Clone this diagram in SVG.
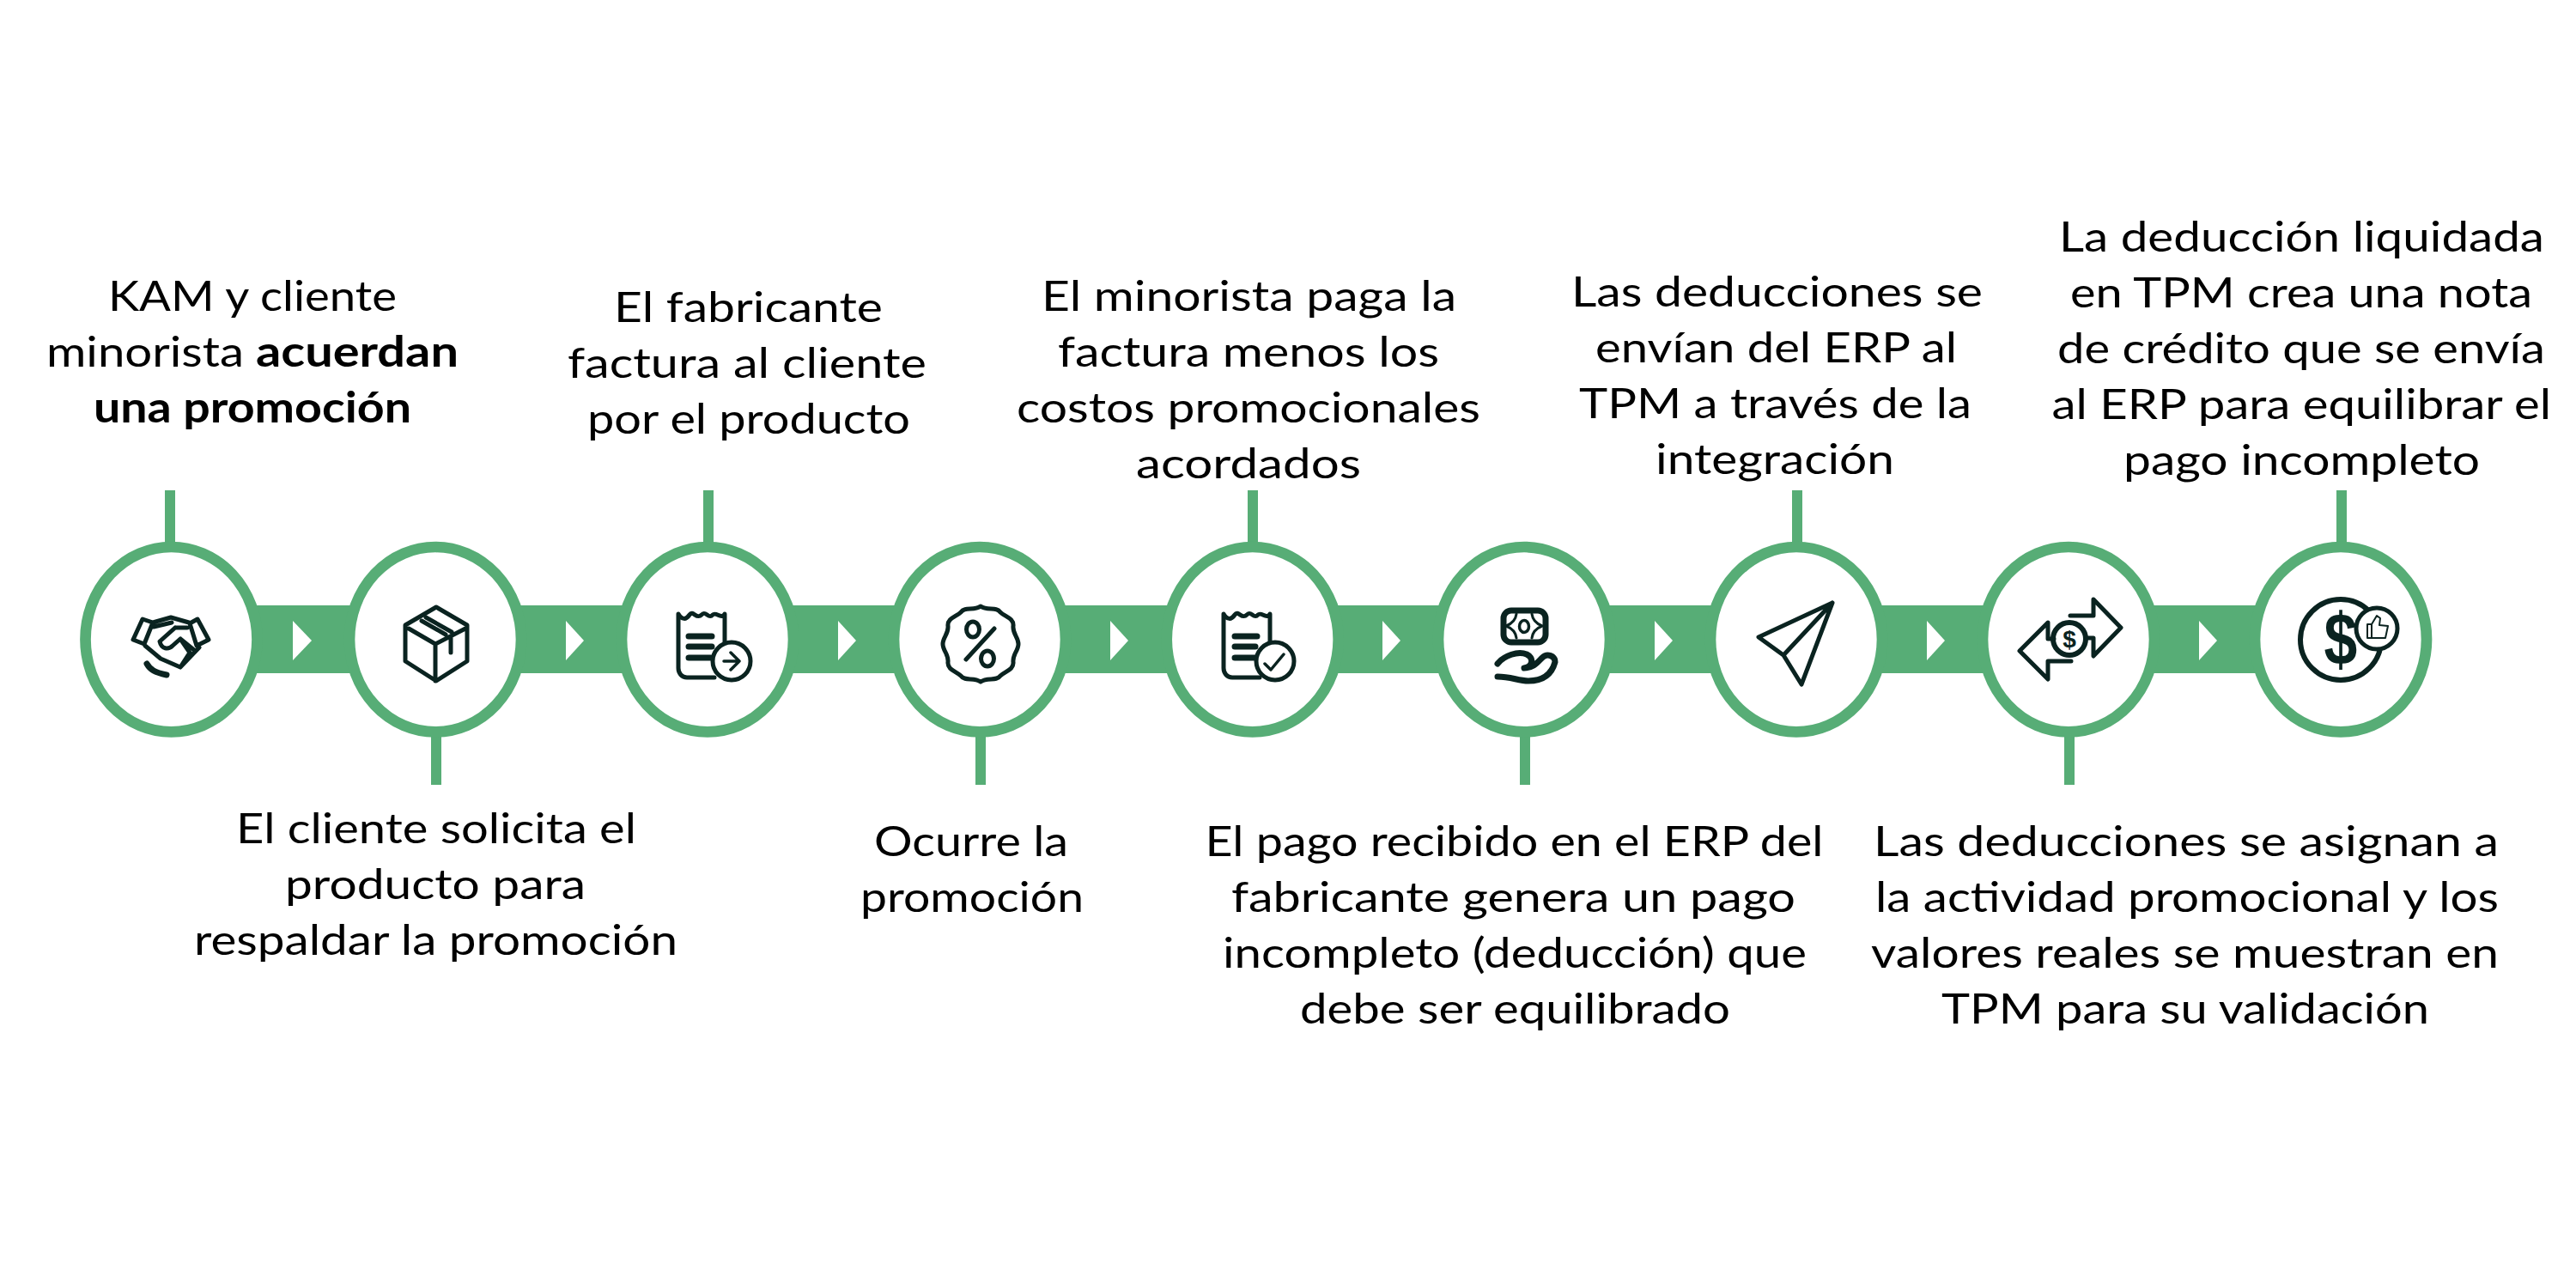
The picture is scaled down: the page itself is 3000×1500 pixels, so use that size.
<svg xmlns="http://www.w3.org/2000/svg" width="3000" height="1500" viewBox="0 0 3000 1500">
<style>
text{font-family:"Lato","Noto Sans",sans-serif;font-size:49px;fill:#000}
.b{font-weight:700}
.ring{fill:#fff;stroke:#57ad76;stroke-width:12.7}
.band{fill:#57ad76}
.tri{fill:#fff}
.ic{fill:none;stroke:#0a2320;stroke-width:5;stroke-linecap:round;stroke-linejoin:round}
.th{stroke-width:7}
.wf{fill:#fff}
.sym{fill:#0a2320;font-family:"Liberation Sans",sans-serif;font-weight:700;text-anchor:middle}
</style>
<rect width="3000" height="1500" fill="#fff"/>
<g id="connectors">
<rect class="band" x="290" y="705" width="2350" height="79"/>
<path class="tri" d="M341 723L363 746L341 769Z"/>
<path class="tri" d="M659 723L680 746L659 769Z"/>
<path class="tri" d="M976 723L997 746L976 769Z"/>
<path class="tri" d="M1293 723L1314 746L1293 769Z"/>
<path class="tri" d="M1610 723L1631 746L1610 769Z"/>
<path class="tri" d="M1927 723L1948 746L1927 769Z"/>
<path class="tri" d="M2244 723L2265 746L2244 769Z"/>
<path class="tri" d="M2561 723L2582 746L2561 769Z"/>
<rect class="band" x="192" y="571" width="12" height="62"/>
<rect class="band" x="502" y="856" width="12" height="58"/>
<rect class="band" x="819" y="571" width="12" height="62"/>
<rect class="band" x="1136" y="856" width="12" height="58"/>
<rect class="band" x="1453" y="571" width="12" height="62"/>
<rect class="band" x="1770" y="856" width="12" height="58"/>
<rect class="band" x="2087" y="571" width="12" height="62"/>
<rect class="band" x="2404" y="856" width="12" height="58"/>
<rect class="band" x="2721" y="571" width="12" height="62"/>
</g>
<g id="node1">
<ellipse class="ring" cx="199.5" cy="744.7" rx="100" ry="107.7"/>
<path class="ic" d="M166 721L178 725L168 750L155 745ZM230 721L221 726L229 752L243 745ZM178 725L199 719L220 725M169 752L187 767L210 777L232 754M179 730L200 725M204 731H218M204 731L186 747C188 756 196 757 201 752L210 744L226 757M210 777L221 760L210 744"/>
<path class="ic th" d="M171 773C175 780 180 783 194 786"/>
</g>
<g id="node2">
<ellipse class="ring" cx="507" cy="744.7" rx="100" ry="107.7"/>
<path class="ic" d="M508 707L544 728V770L508 793L472 770V728ZM476 732L507 750L542 732M507 750V793M491 723L519 739M496 719L526 736M525 743V760"/>
</g>
<g id="node3">
<ellipse class="ring" cx="824" cy="744.7" rx="100" ry="107.7"/>
<path class="ic" d="M832 789H800C794 789 790 784 790 778V715C794 722 799 722 803 716C807 710 811 722 817 716C822 710 825 722 830 716C834 712 840 722 844 715V748"/>
<path class="ic th" d="M802 741H829M802 753H829M802 766H828"/>
<circle class="ic wf" cx="852" cy="770" r="22"/>
<path class="ic" style="stroke-width:3.5" d="M843 770H861M851 760L861 770L851 780"/>
</g>
<g id="node4">
<ellipse class="ring" cx="1141" cy="744.7" rx="100" ry="107.7"/>
<path class="ic" d="M1186 750C1186 742 1179 738 1180 729C1181 720 1170 718 1165 713C1160 706 1150 712 1142 706C1134 712 1124 706 1119 713C1114 718 1103 720 1104 729C1105 738 1098 742 1098 750C1098 758 1105 762 1104 771C1103 780 1114 782 1119 787C1124 794 1134 788 1142 794C1150 788 1160 794 1165 787C1170 782 1181 780 1180 771C1179 762 1186 758 1186 750ZM1158 732L1125 768"/>
<ellipse class="ic" cx="1133" cy="733" rx="7.5" ry="9"/>
<ellipse class="ic" cx="1150" cy="767" rx="7.5" ry="9"/>
</g>
<g id="node5">
<ellipse class="ring" cx="1458.7" cy="744.7" rx="100" ry="107.7"/>
<path class="ic" d="M1467 789H1435C1429 789 1425 784 1425 778V715C1429 722 1434 722 1438 716C1442 710 1446 722 1452 716C1457 710 1460 722 1465 716C1469 712 1475 722 1479 715V748"/>
<path class="ic th" d="M1438 741H1464M1438 753H1462M1438 766H1463"/>
<circle class="ic wf" cx="1485" cy="770" r="22"/>
<path class="ic" style="stroke-width:3.5" d="M1473 773L1480 780L1495 762"/>
</g>
<g id="node6">
<ellipse class="ring" cx="1775" cy="744.7" rx="100" ry="107.7"/>
<rect class="ic th" x="1751" y="711" width="49" height="37" rx="9"/>
<ellipse class="ic" style="stroke-width:3.5" cx="1775" cy="729.5" rx="5.5" ry="7"/>
<path class="ic" style="stroke-width:3" d="M1766 715C1765 723 1759 727 1754 729C1759 731 1765 735 1766 743M1784 715C1785 723 1791 727 1796 729C1791 731 1785 735 1784 743"/>
<path class="ic th" d="M1744 773C1752 763 1768 758 1778 762C1786 766 1786 776 1775 778C1786 778 1790 772 1796 766C1802 760 1811 764 1811 771C1808 782 1800 793 1780 793C1768 793 1760 788 1744 788"/>
</g>
<g id="node7">
<ellipse class="ring" cx="2092" cy="744.7" rx="100" ry="107.7"/>
<path class="ic" d="M2134 702L2048 742L2077 763L2098 797ZM2134 702L2077 763"/>
</g>
<g id="node8">
<ellipse class="ring" cx="2409" cy="744.7" rx="100" ry="107.7"/>
<path class="ic" d="M2411 717H2438V698L2470 731L2438 764V743H2432M2392 744H2385V725L2352 758L2385 791V770H2412"/>
<circle class="ic" style="stroke-width:6" cx="2410" cy="744" r="19"/>
<text class="sym" x="2410" y="754" style="font-size:28px">$</text>
</g>
<g id="node9">
<ellipse class="ring" cx="2726" cy="744.7" rx="100" ry="107.7"/>
<circle class="ic" style="stroke-width:6" cx="2726" cy="745" r="47"/>
<text class="sym" transform="translate(2726 774) scale(.82 1)" style="font-size:85px">$</text>
<circle class="ic wf" cx="2768" cy="732" r="24"/>
<path class="ic" style="stroke-width:2" d="M2757 727H2762V743H2757ZM2762 727L2768 717L2772 720L2771 728L2781 729L2778 743H2762"/>
</g>
<g id="labels">
<text x="126" y="361.7" textLength="336" lengthAdjust="spacingAndGlyphs">KAM y cliente</text>
<text x="54" y="426.7" textLength="230" lengthAdjust="spacingAndGlyphs">minorista</text>
<text class="b" x="298" y="426.7" textLength="236" lengthAdjust="spacingAndGlyphs">acuerdan</text>
<text class="b" x="109" y="491.7" textLength="370" lengthAdjust="spacingAndGlyphs">una promoción</text>
<text x="715" y="375" textLength="313" lengthAdjust="spacingAndGlyphs">El fabricante</text>
<text x="661" y="440" textLength="418" lengthAdjust="spacingAndGlyphs">factura al cliente</text>
<text x="684" y="505" textLength="376" lengthAdjust="spacingAndGlyphs">por el producto</text>
<text x="1213" y="361.7" textLength="483" lengthAdjust="spacingAndGlyphs">El minorista paga la</text>
<text x="1232" y="426.7" textLength="444" lengthAdjust="spacingAndGlyphs">factura menos los</text>
<text x="1184" y="491.7" textLength="540" lengthAdjust="spacingAndGlyphs">costos promocionales</text>
<text x="1323" y="556.7" textLength="262" lengthAdjust="spacingAndGlyphs">acordados</text>
<text x="1830" y="356.7" textLength="479" lengthAdjust="spacingAndGlyphs">Las deducciones se</text>
<text x="1858" y="421.7" textLength="421" lengthAdjust="spacingAndGlyphs">envían del ERP al</text>
<text x="1839" y="486.7" textLength="457" lengthAdjust="spacingAndGlyphs">TPM a través de la</text>
<text x="1928" y="551.7" textLength="278" lengthAdjust="spacingAndGlyphs">integración</text>
<text x="2398" y="292.7" textLength="565" lengthAdjust="spacingAndGlyphs">La deducción liquidada</text>
<text x="2411" y="357.7" textLength="538" lengthAdjust="spacingAndGlyphs">en TPM crea una nota</text>
<text x="2396" y="422.7" textLength="568" lengthAdjust="spacingAndGlyphs">de crédito que se envía</text>
<text x="2389.5" y="487.7" textLength="581.5" lengthAdjust="spacingAndGlyphs">al ERP para equilibrar el</text>
<text x="2473" y="552.7" textLength="415" lengthAdjust="spacingAndGlyphs">pago incompleto</text>
<text x="275" y="981.7" textLength="466" lengthAdjust="spacingAndGlyphs">El cliente solicita el</text>
<text x="332" y="1046.7" textLength="350" lengthAdjust="spacingAndGlyphs">producto para</text>
<text x="226" y="1111.7" textLength="563" lengthAdjust="spacingAndGlyphs">respaldar la promoción</text>
<text x="1018" y="997" textLength="226" lengthAdjust="spacingAndGlyphs">Ocurre la</text>
<text x="1002" y="1062" textLength="260" lengthAdjust="spacingAndGlyphs">promoción</text>
<text x="1403.5" y="996.7" textLength="720" lengthAdjust="spacingAndGlyphs">El pago recibido en el ERP del</text>
<text x="1434" y="1061.7" textLength="657" lengthAdjust="spacingAndGlyphs">fabricante genera un pago</text>
<text x="1424" y="1126.7" textLength="680" lengthAdjust="spacingAndGlyphs">incompleto (deducción) que</text>
<text x="1514" y="1191.7" textLength="501" lengthAdjust="spacingAndGlyphs">debe ser equilibrado</text>
<text x="2182" y="996.7" textLength="728" lengthAdjust="spacingAndGlyphs">Las deducciones se asignan a</text>
<text x="2184" y="1061.7" textLength="726" lengthAdjust="spacingAndGlyphs">la actividad promocional y los</text>
<text x="2179" y="1126.7" textLength="731" lengthAdjust="spacingAndGlyphs">valores reales se muestran en</text>
<text x="2261" y="1191.7" textLength="568" lengthAdjust="spacingAndGlyphs">TPM para su validación</text>
</g>
</svg>
